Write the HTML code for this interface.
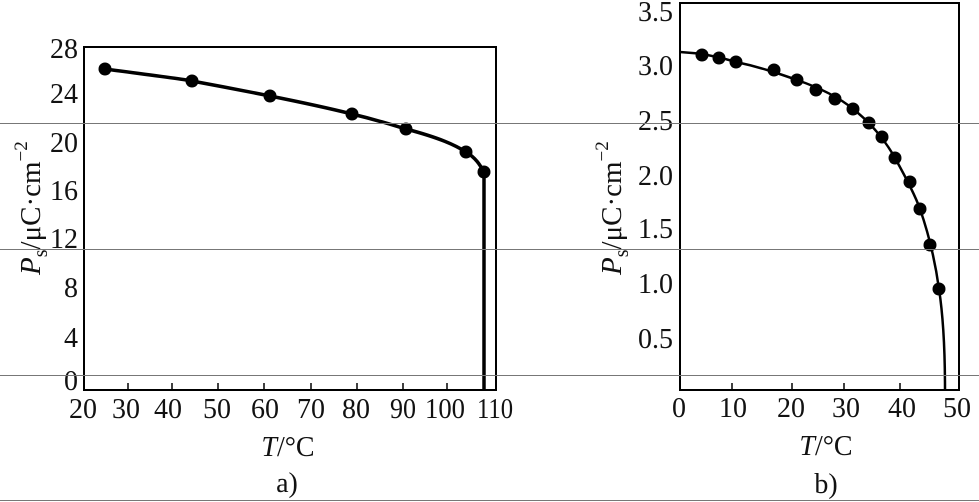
<!DOCTYPE html>
<html><head><meta charset="utf-8"><style>
body{margin:0;background:#fff;}
svg{display:block;font-family:"Liberation Serif",serif;}
</style></head><body>
<svg width="979" height="502" viewBox="0 0 979 502">
<rect width="979" height="502" fill="#fff"/>
<!-- panel a -->
<rect x="84" y="47" width="412" height="343" fill="none" stroke="#000" stroke-width="2"/>
<g stroke="#000" stroke-width="1.5">
<line x1="128" y1="390" x2="128" y2="383"/><line x1="172" y1="390" x2="172" y2="383"/><line x1="218" y1="390" x2="218" y2="383"/><line x1="264" y1="390" x2="264" y2="383"/><line x1="311" y1="390" x2="311" y2="383"/><line x1="357" y1="390" x2="357" y2="383"/><line x1="403" y1="390" x2="403" y2="383"/><line x1="447" y1="390" x2="447" y2="383"/>
</g>
<g font-size="28" text-anchor="end" fill="#111">
<text x="78" y="58">28</text><text x="78" y="103">24</text><text x="78" y="152">20</text><text x="78" y="200">16</text><text x="78" y="248">12</text><text x="78" y="297">8</text><text x="78" y="347">4</text><text x="78" y="390">0</text>
</g>
<g font-size="28" text-anchor="middle" fill="#111">
<text x="83" y="418">20</text><text x="126" y="418">30</text><text x="168" y="418">40</text><text x="217" y="418">50</text><text x="265" y="418">60</text><text x="311" y="418">70</text><text x="356" y="418">80</text><text x="403" y="418" textLength="26" lengthAdjust="spacingAndGlyphs">90</text><text x="445" y="418" textLength="40" lengthAdjust="spacingAndGlyphs">100</text><text x="495" y="418" textLength="36" lengthAdjust="spacingAndGlyphs">110</text>
<text x="288" y="456"><tspan font-style="italic">T</tspan>/°C</text>
<text x="287" y="492">a)</text>
</g>
<text transform="translate(40,275) rotate(-90)" font-size="29" fill="#111"><tspan font-style="italic">P</tspan><tspan font-size="20" dy="7">s</tspan><tspan dy="-7">/μC·cm</tspan><tspan font-size="19" dy="-13">−2</tspan></text>
<path d="M105,69 C150,75 190,80 192,81 C230,88 260,94 270,96 C310,104 340,111 352,114 C385,122 395,126 406,129 C440,138 455,145 466,152 C476,158 480,165 484,172 L484,390" fill="none" stroke="#000" stroke-width="3.5"/>
<g fill="#000">
<circle cx="105" cy="69" r="6.5"/><circle cx="192" cy="81" r="6.5"/><circle cx="270" cy="96" r="6.5"/><circle cx="352" cy="114" r="6.5"/><circle cx="406" cy="129" r="6.5"/><circle cx="466" cy="152" r="6.5"/><circle cx="484" cy="172" r="6.5"/>
</g>
<!-- panel b -->
<rect x="680" y="3" width="279" height="387" fill="none" stroke="#000" stroke-width="2"/>
<g stroke="#000" stroke-width="1.5">
<line x1="732" y1="390" x2="732" y2="383"/><line x1="792" y1="390" x2="792" y2="383"/><line x1="844" y1="390" x2="844" y2="383"/><line x1="900" y1="390" x2="900" y2="383"/>
</g>
<g font-size="28" text-anchor="end" fill="#111">
<text x="673" y="21">3.5</text><text x="673" y="75">3.0</text><text x="673" y="130">2.5</text><text x="673" y="185">2.0</text><text x="673" y="238">1.5</text><text x="673" y="293">1.0</text><text x="673" y="348">0.5</text>
</g>
<g font-size="28" text-anchor="middle" fill="#111">
<text x="679" y="417">0</text><text x="733" y="417">10</text><text x="791" y="417">20</text><text x="846" y="417">30</text><text x="902" y="417">40</text><text x="957" y="417">50</text>
<text x="826" y="455"><tspan font-style="italic">T</tspan>/°C</text>
<text x="826" y="493">b)</text>
</g>
<text transform="translate(621,275) rotate(-90)" font-size="29" fill="#111"><tspan font-style="italic">P</tspan><tspan font-size="20" dy="7">s</tspan><tspan dy="-7">/μC·cm</tspan><tspan font-size="19" dy="-13">−2</tspan></text>
<path d="M680,52 C700,53 720,57 736,62 C760,67 780,74 797,80 C820,88 840,98 853,109 C870,122 885,140 895,158 C905,176 915,195 920,209 C928,232 935,260 939,289 C943,315 945,350 945,390" fill="none" stroke="#000" stroke-width="2.5"/>
<g fill="#000">
<circle cx="702" cy="55" r="6.5"/><circle cx="719" cy="58" r="6.5"/><circle cx="736" cy="62" r="6.5"/><circle cx="774" cy="70" r="6.5"/><circle cx="797" cy="80" r="6.5"/><circle cx="816" cy="90" r="6.5"/><circle cx="835" cy="99" r="6.5"/><circle cx="853" cy="109" r="6.5"/><circle cx="869" cy="123" r="6.5"/><circle cx="882" cy="137" r="6.5"/><circle cx="895" cy="158" r="6.5"/><circle cx="910" cy="182" r="6.5"/><circle cx="920" cy="209" r="6.5"/><circle cx="930" cy="245" r="6.5"/><circle cx="939" cy="289" r="6.5"/>
</g>
<!-- scan lines -->
<g stroke="#777" stroke-width="1">
<line x1="0" y1="123.5" x2="979" y2="123.5"/><line x1="0" y1="249.5" x2="979" y2="249.5"/><line x1="0" y1="375.5" x2="979" y2="375.5"/><line x1="0" y1="500.5" x2="979" y2="500.5"/>
</g>
</svg>
</body></html>
